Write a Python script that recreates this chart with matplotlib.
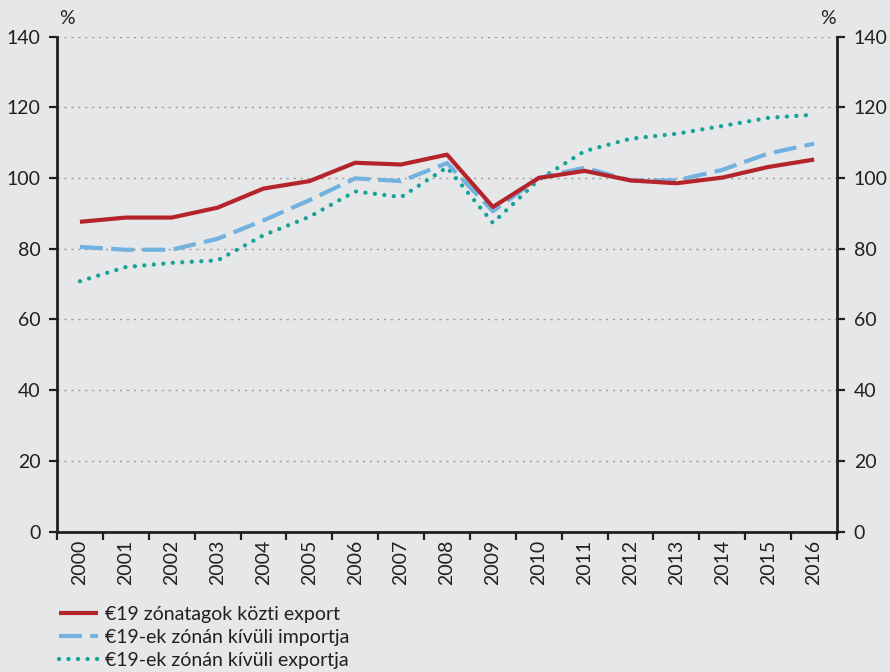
import matplotlib
matplotlib.use("Agg")
import matplotlib.pyplot as plt
import numpy as np

years = [str(y) for y in range(2000, 2017)]
intra_export = [87.6, 88.8, 88.8, 91.6, 97.0, 99.1, 104.3, 103.8, 106.6, 91.8, 100.0, 102.0, 99.3, 98.5, 100.1, 103.1, 105.2]
extra_import = [80.5, 79.7, 79.7, 82.8, 88.0, 93.7, 99.9, 99.1, 104.2, 90.6, 100.0, 102.9, 99.3, 99.3, 102.3, 106.9, 109.7]
extra_export = [70.8, 74.8, 76.0, 76.7, 83.8, 89.0, 96.2, 94.6, 103.0, 87.3, 99.5, 107.6, 111.1, 112.5, 114.7, 117.0, 117.9]
labels = ["€19 zónatagok közti export", "€19-ek zónán kívüli importja", "€19-ek zónán kívüli exportja"]
yticks = [0, 20, 40, 60, 80, 100, 120, 140]

plt.rcParams['font.family'] = ['Lato', 'DejaVu Sans']
bg = '#e6e7e9'
fs = 14
fig = plt.figure(figsize=(8.9, 6.72), dpi=100, facecolor=bg)
ax = fig.add_axes([57/890, 1-531.6/672, (837-57)/890, (531.6-36.5)/672])
ax.set_facecolor(bg)

x = np.arange(len(years))
ax.plot(x, intra_export, color='#b5242a', lw=3.0, solid_capstyle='butt', zorder=5, label=labels[0])
ax.plot(x, extra_import, color='#73b1df', lw=3.0, dashes=(5.5, 2.0), zorder=4, label=labels[1])
ax.plot(x, extra_export, color='#17a398', lw=3.1, dashes=(0.01, 2.2), dash_capstyle='round', zorder=3, label=labels[2])

ax.set_xlim(-0.5, len(years) - 0.5)
ax.set_ylim(0, 140)
ax.set_yticks(yticks)
ax.set_yticklabels([str(v) for v in yticks])
for v in yticks[1:]:
    ax.axhline(v, color='#9a9a9a', lw=1.0, ls=(0, (1.5, 3.5)), zorder=1)

ax.set_xticks(np.arange(-0.5, len(years), 1.0))
ax.set_xticklabels([])
ax.set_xticks(x, minor=True)
ax.set_xticklabels(years, minor=True, rotation=90)
ax.tick_params(axis='x', which='major', length=6, width=1.6, color='#231f20', direction='out')
ax.tick_params(axis='x', which='minor', length=0, pad=6, labelsize=fs, labelcolor='#231f20')
ax.tick_params(axis='y', which='major', length=6, width=1.6, color='#231f20', direction='out',
               labelsize=fs, labelcolor='#231f20', left=True, right=True, labelleft=True, labelright=True, pad=6)

for s in ['left', 'right', 'bottom']:
    ax.spines[s].set_color('#231f20')
    ax.spines[s].set_linewidth(2.0)
ax.spines['top'].set_visible(False)

fig.text(67/890, 1-18/672, '%', fontsize=fs, color='#231f20', ha='center', va='center')
fig.text(828/890, 1-18/672, '%', fontsize=fs, color='#231f20', ha='center', va='center')

leg = fig.legend(loc='upper left', bbox_to_anchor=(51/890, 1-598/672), frameon=False,
                 fontsize=fs, handlelength=2.0, handletextpad=0.4, labelspacing=0.31, borderaxespad=0)
for t in leg.get_texts():
    t.set_color('#231f20')

fig.savefig('out.png', dpi=100, facecolor=bg)
